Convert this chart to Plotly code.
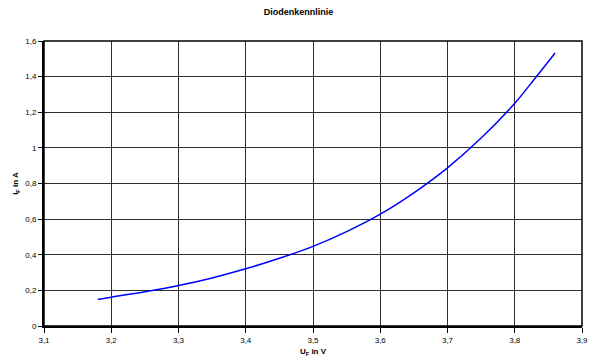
import plotly.graph_objects as go

# Data
u_f = [3.18, 3.20, 3.25, 3.30, 3.35, 3.40, 3.45, 3.50, 3.55, 3.60, 3.65, 3.70, 3.75, 3.80, 3.83, 3.86]
i_f = [0.149, 0.162, 0.192, 0.227, 0.27, 0.321, 0.38, 0.447, 0.53, 0.628, 0.748, 0.888, 1.055, 1.25, 1.39, 1.533]

x_ticks = [3.1, 3.2, 3.3, 3.4, 3.5, 3.6, 3.7, 3.8, 3.9]
x_labels = ["3,1", "3,2", "3,3", "3,4", "3,5", "3,6", "3,7", "3,8", "3,9"]
y_ticks = [0, 0.2, 0.4, 0.6, 0.8, 1.0, 1.2, 1.4, 1.6]
y_labels = ["0", "0,2", "0,4", "0,6", "0,8", "1", "1,2", "1,4", "1,6"]

fig = go.Figure()
fig.add_trace(go.Scatter(
    x=u_f, y=i_f, mode="lines",
    line=dict(color="#0000FF", width=1.5, shape="spline", smoothing=1.0),
    showlegend=False, hoverinfo="skip"))

font_family = "Liberation Sans, Arial, sans-serif"

fig.update_layout(
    width=597, height=364,
    margin=dict(l=44, r=9, t=41, b=37),
    paper_bgcolor="white", plot_bgcolor="white",
    font=dict(family=font_family, size=8, color="#000000"),
    title=dict(text="<b>Diodenkennlinie</b>", x=0.5, xanchor="center", y=1 - 12/364, yanchor="middle",
               font=dict(size=9, family=font_family)),
    xaxis=dict(range=[3.1, 3.9], tickvals=x_ticks, ticktext=x_labels,
               showgrid=True, gridcolor="#303030", gridwidth=1,
               showline=True, linecolor="#000000", linewidth=2,
               ticks="outside", ticklen=5, tickcolor="#000000",
               zeroline=False,
               title=dict(text="<b>U<sub>F</sub> in V</b>", font=dict(size=8), standoff=5)),
    yaxis=dict(range=[0, 1.6], tickvals=y_ticks, ticktext=y_labels,
               showgrid=True, gridcolor="#303030", gridwidth=1,
               showline=True, linecolor="#000000", linewidth=2,
               ticks="outside", ticklen=4, tickcolor="#000000",
               zeroline=False,
               title=dict(text="<b>I<sub>F</sub> in A</b>", font=dict(size=8), standoff=5)),
)
fig.add_shape(type="rect", xref="paper", yref="paper", x0=0, y0=0, x1=1, y1=1,
              line=dict(color="#000000", width=1.5), layer="above")

fig.write_html("out.html")
